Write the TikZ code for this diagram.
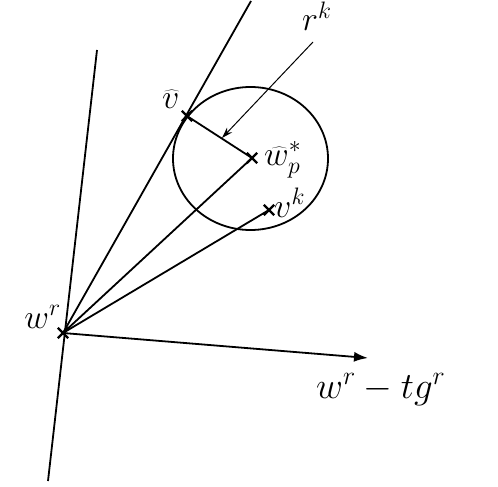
\RequirePackage{fix-cm}
\documentclass[tikz,border=0pt]{standalone}
\usetikzlibrary{shapes.misc,shapes.geometric,arrows.meta}
\begin{document}
\begin{tikzpicture}[x=1pt,y=-1pt,
  ln/.style={line width=1.8pt},
  ptmark/.style={cross out,draw,line width=2.4pt,minimum size=8pt,inner sep=0pt},
  lbl/.style={font=\fontsize{34}{38}\selectfont, inner sep=0pt}]
\useasboundingbox (0,0) rectangle (498,487);
\node[ptmark] (wr) at (63,333) {};
\node[ptmark] (vh) at (187,116) {};
\node[ptmark] (wp) at (252,158) {};
\node[ptmark] (vk) at (269,210) {};
\coordinate (top1) at (97,50);
\coordinate (bot1) at (48,481);
\coordinate (top2) at (251,1);
\coordinate (tip) at (368,358);
\coordinate (rkstart) at (313,42);
\coordinate (rkend) at (222,138);
\node[draw,ellipse,line width=1.8pt,minimum width=155pt,minimum height=143pt,inner sep=0pt] (circ) at (250.5,158.5) {};
\draw[ln] (top1) -- (bot1);
\draw[ln] (wr.center) -- (top2);
\draw[ln] (wr.center) -- (wp.center);
\draw[ln] (wr.center) -- (vk.center);
\draw[ln,-{Latex[length=14pt,width=10pt]}] (wr.center) -- (tip);
\draw[ln] (vh.center) -- (wp.center);
\draw[line width=1pt,-{Stealth[length=11pt,width=7pt]}] (rkstart) -- (rkend);
\node[lbl,anchor=base east] (lwr) at (61,328) {$w^r$};
\node[lbl,anchor=base west] (lrk) at (302,31) {$r^k$};
\node[lbl,anchor=base west] (lvh) at (162,108) {$\widehat{v}$};
\node[lbl,anchor=base west] (lwp) at (264,165) {$\widehat{w}_p^*$};
\node[lbl,anchor=base west] (lvk) at (274,217) {$v^k$};
\node[lbl,font=\fontsize{37}{40}\selectfont,anchor=base west] (lwt) at (316,398) {$w^r - tg^r$};
\end{tikzpicture}
\end{document}
